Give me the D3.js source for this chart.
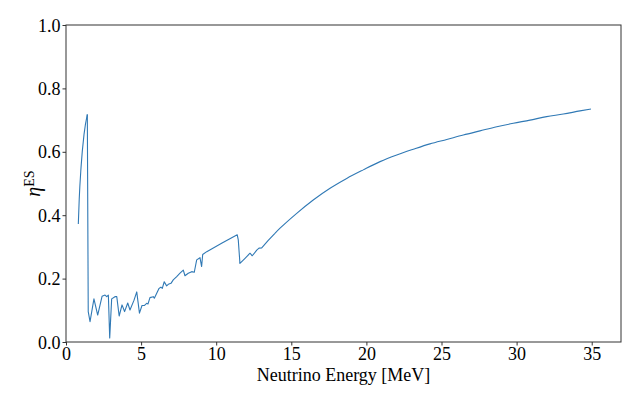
<!DOCTYPE html>
<html>
<head>
<meta charset="utf-8">
<script src="https://cdn.jsdelivr.net/npm/d3@7"></script>
<style>
  body { margin: 0; background: #fff; }
</style>
</head>
<body>
<div id="chart"></div>
<script>
const FONT = "'Liberation Serif', serif";

// energies [MeV]
const energy = [
    0.82, 0.88, 1.00, 1.20, 1.42, 1.48, 1.60, 1.86, 2.11, 2.40, 2.60, 2.71, 2.82, 2.91, 3.04,
    3.26, 3.38, 3.54, 3.73, 3.90, 4.11, 4.26, 4.53, 4.71, 4.89, 5.06, 5.21, 5.37, 5.46,
    5.59, 5.81, 5.88, 6.04, 6.19, 6.32, 6.41, 6.54, 6.70, 6.81, 6.99, 7.14, 7.37, 7.59,
    7.81, 7.92, 8.14, 8.37, 8.54, 8.70, 8.92, 9.03, 9.10, 9.37, 10.39, 11.40, 11.47,
    11.58, 11.92, 12.25, 12.40, 12.70, 12.85, 13.03, 13.45, 13.91, 14.25, 15.36, 16.46,
    17.58, 18.69, 19.79, 20.91, 22.02, 23.12, 24.23, 25.35, 26.45, 27.56, 28.68, 29.78,
    30.89, 32.00, 33.11, 34.22, 34.95
];
// eta^ES values
const eta = [
    0.372, 0.450, 0.550, 0.655, 0.718, 0.096, 0.064, 0.136, 0.085, 0.144, 0.148, 0.143, 0.148, 0.013, 0.136,
    0.143, 0.143, 0.082, 0.117, 0.096, 0.123, 0.101, 0.132, 0.158, 0.091, 0.115, 0.115, 0.122, 0.120,
    0.140, 0.143, 0.138, 0.154, 0.169, 0.173, 0.169, 0.190, 0.177, 0.182, 0.185, 0.196, 0.206, 0.217,
    0.227, 0.209, 0.217, 0.222, 0.220, 0.259, 0.266, 0.238, 0.276, 0.285, 0.312, 0.338, 0.322,
    0.248, 0.264, 0.280, 0.272, 0.290, 0.296, 0.297, 0.320, 0.343, 0.359, 0.406, 0.448,
    0.485, 0.516, 0.543, 0.569, 0.590, 0.608, 0.625, 0.639, 0.653, 0.666, 0.679, 0.690,
    0.700, 0.711, 0.719, 0.729, 0.735
];
const xTicks = [0, 5, 10, 15, 20, 25, 30, 35];
const yTicks = [0.0, 0.2, 0.4, 0.6, 0.8, 1.0];

const W = 640, H = 400;
const margin = { top: 25, right: 19, bottom: 58, left: 66 };
const width = W - margin.left - margin.right;
const height = H - margin.top - margin.bottom;

const svg = d3.select("#chart").append("svg")
    .attr("width", W)
    .attr("height", H);

const g = svg.append("g")
    .attr("transform", `translate(${margin.left},${margin.top})`);

const x = d3.scaleLinear().domain([0, 36.95]).range([0, width]);
const y = d3.scaleLinear().domain([0, 1]).range([height, 0]);

const points = energy.map((e, i) => [e, eta[i]]);
// the first rise and the tail above ~14 MeV are smooth curves, the middle is jagged
const rise = points.filter(d => d[0] <= 1.42);
const jagged = points.filter(d => d[0] >= 1.42 && d[0] <= 13.91);
const tail = points.filter(d => d[0] >= 13.91);

const smooth = d3.line().curve(d3.curveMonotoneX).x(d => x(d[0])).y(d => y(d[1]));
const straight = d3.line().x(d => x(d[0])).y(d => y(d[1]));

[[rise, smooth], [jagged, straight], [tail, smooth]].forEach(([data, gen]) => {
    g.append("path")
        .datum(data)
        .attr("fill", "none")
        .attr("stroke", "#3079b5")
        .attr("stroke-width", 1.1)
        .attr("stroke-linejoin", "round")
        .attr("d", gen);
});

// axes
const xAxis = g.append("g")
    .attr("transform", `translate(0,${height})`)
    .call(d3.axisBottom(x).tickValues(xTicks).tickFormat(d3.format("d")).tickSize(3.5).tickPadding(2));
const yAxis = g.append("g")
    .call(d3.axisLeft(y).tickValues(yTicks).tickFormat(d3.format(".1f")).tickSize(3.5).tickPadding(2));

[xAxis, yAxis].forEach(a => {
    a.attr("font-family", FONT).attr("font-size", 18);
    a.selectAll("text")
        .style("font-family", FONT)
        .style("font-size", "18px")
        .attr("fill", "#000");
    a.selectAll("line").attr("stroke", "#333");
    a.select(".domain").remove();
});
yAxis.selectAll("text").attr("dy", "0.34em");

// frame
g.append("rect")
    .attr("width", width)
    .attr("height", height)
    .attr("fill", "none")
    .attr("stroke", "#333")
    .attr("stroke-width", 1);

// labels
svg.append("text")
    .attr("x", margin.left + width / 2)
    .attr("y", 381)
    .attr("text-anchor", "middle")
    .style("font-family", FONT)
    .style("font-size", "18px")
    .text("Neutrino Energy [MeV]");

const yl = svg.append("text")
    .attr("transform", `translate(40,${margin.top + height / 2}) rotate(-90)`)
    .attr("text-anchor", "middle")
    .style("font-family", FONT)
    .style("font-size", "20px");
yl.append("tspan").style("font-style", "italic").text("η");
yl.append("tspan").attr("dy", "-0.45em").style("font-size", "14px").text("ES");
</script>
</body>
</html>
